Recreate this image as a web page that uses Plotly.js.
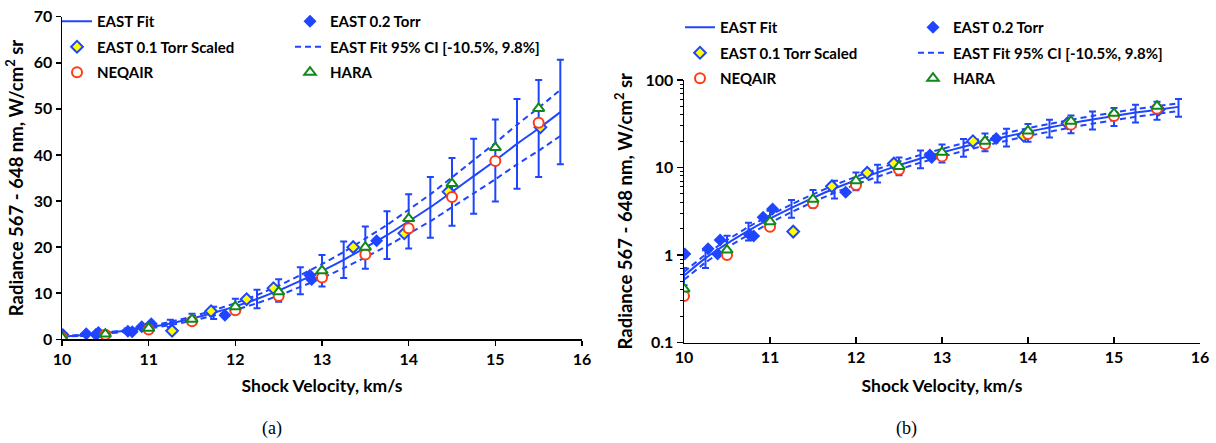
<!DOCTYPE html>
<html>
<head>
<meta charset="utf-8">
<script src="https://cdn.plot.ly/plotly-3.0.1.min.js"></script>
<style>
  html, body { margin: 0; padding: 0; background: #fff; }
  #chart { width: 1216px; height: 443px; }
</style>
</head>
<body>
<div id="chart"></div>
<script>
// ---- data ----
const fitV = [10, 10.25, 10.5, 10.75, 11, 11.25, 11.5, 11.75, 12, 12.25, 12.5, 12.75,
              13, 13.25, 13.5, 13.75, 14, 14.25, 14.5, 14.75, 15, 15.25, 15.5, 15.75];
const fitR = [0.58, 0.92, 1.35, 1.9, 2.6, 3.45, 4.5, 5.75, 7.15, 8.75, 10.6, 12.7,
              14.85, 17.25, 19.9, 22.6, 25.6, 28.65, 32.0, 35.4, 38.8, 42.4, 45.75, 49.3];
const fitErr = [0.13, 0.21, 0.31, 0.44, 0.6, 0.79, 1.04, 1.32, 1.64, 2.01, 2.44, 2.92,
                3.42, 3.97, 4.58, 5.2, 5.89, 6.59, 7.36, 8.14, 8.92, 9.75, 10.52, 11.34];
const ciUpper = [0.64, 1.01, 1.48, 2.09, 2.85, 3.79, 4.94, 6.31, 7.85, 9.61, 11.64, 13.94,
                 16.31, 18.94, 21.85, 24.81, 28.11, 31.46, 35.14, 38.87, 42.6, 46.56, 50.23, 54.13];
const ciLower = [0.52, 0.82, 1.21, 1.7, 2.33, 3.09, 4.03, 5.15, 6.4, 7.83, 9.49, 11.37,
                 13.29, 15.44, 17.81, 20.23, 22.91, 25.64, 28.64, 31.68, 34.73, 37.95, 40.95, 44.12];

const east02V = [10.01, 10.28, 10.39, 10.42, 10.76, 10.81, 10.92, 11.03, 11.88, 12.86, 12.88, 13.63];
const east02R = [1.03, 1.18, 1.03, 1.48, 1.72, 1.65, 2.7, 3.35, 5.2, 13.9, 13.0, 21.4];

const east01V = [11.27, 11.72, 12.13, 12.44, 13.36, 13.95, 14.46, 15.52];
const east01R = [1.85, 6.1, 8.7, 11.1, 20.0, 23.0, 32.0, 46.0];

const neqV = [10, 10.5, 11, 11.5, 12, 12.5, 13, 13.5, 14, 14.5, 15, 15.5];
const neqR = [0.34, 1.0, 2.1, 3.9, 6.3, 9.4, 13.4, 18.4, 24.1, 30.9, 38.7, 47.0];

const haraV = [10, 10.5, 11, 11.5, 12, 12.5, 13, 13.5, 14, 14.5, 15, 15.5];
const haraR = [0.41, 1.14, 2.4, 4.33, 7.07, 10.3, 14.9, 20.0, 26.2, 33.8, 41.6, 50.1];

const xTicks = [10, 11, 12, 13, 14, 15, 16];
const yLinTicks = [0, 10, 20, 30, 40, 50, 60, 70];
const yLogTicks = [0.1, 1, 10, 100];
const yLogText = ['0.1', '1', '10', '100'];

const names = {
  fit: 'EAST Fit',
  e02: 'EAST 0.2 Torr',
  e01: 'EAST 0.1 Torr Scaled',
  ci: 'EAST Fit 95% CI [-10.5%, 9.8%]',
  neq: 'NEQAIR',
  hara: 'HARA'
};
const captions = ['(a)', '(b)'];
const yTitle = 'Radiance 567 - 648 nm, W/cm<sup>2</sup> sr';
const xTitle = 'Shock Velocity, km/s';

// ---- style ----
const BLUE = '#1f45ff';
const RED = '#ff3b14';
const GREEN = '#11891a';
const YELLOW = '#ffff00';
const FONT = 'Lato, "Open Sans", sans-serif';

function panelTraces(xa, ya, legA, legB) {
  return [
    { x: fitV, y: fitR, xaxis: xa, yaxis: ya, type: 'scatter', mode: 'lines',
      name: names.fit, line: { color: BLUE, width: 2, shape: 'spline', smoothing: 0.6 },
      legend: legA, legendgroup: legA + 'fit', legendrank: 1 },
    { x: fitV, y: fitR, xaxis: xa, yaxis: ya, type: 'scatter', mode: 'markers',
      marker: { size: 1, color: 'rgba(0,0,0,0)' }, showlegend: false, hoverinfo: 'skip',
      error_y: { type: 'data', array: fitErr, visible: true, color: BLUE, thickness: 2, width: 3.5 } },
    { x: fitV, y: ciUpper, xaxis: xa, yaxis: ya, type: 'scatter', mode: 'lines',
      name: names.ci, line: { color: BLUE, width: 2, dash: '6px,4px', shape: 'spline', smoothing: 0.6 },
      legend: legB, legendgroup: legB + 'ci', legendrank: 2 },
    { x: fitV, y: ciLower, xaxis: xa, yaxis: ya, type: 'scatter', mode: 'lines',
      name: names.ci, line: { color: BLUE, width: 2, dash: '6px,4px', shape: 'spline', smoothing: 0.6 },
      legend: legB, legendgroup: legB + 'ci', showlegend: false },
    { x: east02V, y: east02R, xaxis: xa, yaxis: ya, type: 'scatter', mode: 'markers',
      name: names.e02, marker: { symbol: 'diamond', size: 10, color: BLUE, line: { width: 0 } },
      legend: legB, legendgroup: legB + 'e02', legendrank: 1 },
    { x: east01V, y: east01R, xaxis: xa, yaxis: ya, type: 'scatter', mode: 'markers',
      name: names.e01, marker: { symbol: 'diamond', size: 9, color: YELLOW, line: { color: BLUE, width: 2 } },
      legend: legA, legendgroup: legA + 'e01', legendrank: 2 },
    { x: neqV, y: neqR, xaxis: xa, yaxis: ya, type: 'scatter', mode: 'markers',
      name: names.neq, marker: { symbol: 'circle', size: 10, color: '#ffffff', line: { color: RED, width: 2 } },
      legend: legA, legendgroup: legA + 'neq', legendrank: 3 },
    { x: haraV, y: haraR, xaxis: xa, yaxis: ya, type: 'scatter', mode: 'markers',
      name: names.hara, marker: { symbol: 'triangle-up', size: 10, color: '#ffffff', line: { color: GREEN, width: 2 } },
      legend: legB, legendgroup: legB + 'hara', legendrank: 3 }
  ];
}

const data = [].concat(
  panelTraces('x', 'y', 'legend', 'legend2'),
  panelTraces('x2', 'y2', 'legend3', 'legend4')
);

const W = 1216, H = 443;
const tickFont = { family: FONT, size: 16, color: '#000', weight: 'bold' };
const xTitleFont = { family: FONT, size: 17.5, color: '#000', weight: 'bold' };
const yTitleFont = { family: FONT, size: 18.5, color: '#000', weight: 'bold' };
const legFont = { family: FONT, size: 15, color: '#000', weight: 'bold' };

function legend(xpx, ypx) {
  return { x: xpx / W, y: 1 - ypx / H, xanchor: 'left', yanchor: 'top',
    orientation: 'v', bgcolor: 'rgba(0,0,0,0)', borderwidth: 0,
    font: legFont, tracegroupgap: 3, traceorder: 'grouped', itemwidth: 30 };
}

const axBase = {
  showgrid: false, zeroline: false, showline: true, linecolor: '#000', linewidth: 1.5,
  tickcolor: '#000', tickwidth: 1.5, tickfont: tickFont, mirror: false, fixedrange: true
};

const layout = {
  width: W, height: H,
  margin: { l: 0, r: 0, t: 0, b: 0 },
  paper_bgcolor: '#fff', plot_bgcolor: '#fff',
  showlegend: true,
  xaxis: Object.assign({}, axBase, {
    domain: [62 / W, 582 / W], range: [10, 16], tickvals: xTicks, ticks: 'outside', ticklen: 5,
    anchor: 'y', title: { text: xTitle, font: xTitleFont, standoff: 12 }
  }),
  yaxis: Object.assign({}, axBase, {
    domain: [1 - 339.3 / H, 1 - 16.7 / H], range: [0, 70], tickvals: yLinTicks, ticks: 'outside', ticklen: 5,
    anchor: 'x', title: { text: yTitle, font: yTitleFont, standoff: 5 }
  }),
  xaxis2: Object.assign({}, axBase, {
    domain: [684 / W, 1200 / W], range: [10, 16], tickvals: xTicks, ticks: 'inside', ticklen: 6,
    anchor: 'y2', title: { text: xTitle, font: xTitleFont, standoff: 14 }
  }),
  yaxis2: Object.assign({}, axBase, {
    domain: [1 - 342.5 / H, 1 - 80 / H], type: 'log', range: [-1, 2],
    tickvals: yLogTicks, ticktext: yLogText, ticks: 'outside', ticklen: 6,
    minor: { ticks: 'outside', ticklen: 3, tickcolor: '#000', tickwidth: 1, dtick: 'D1', showgrid: false },
    anchor: 'x2', title: { text: yTitle, font: yTitleFont, standoff: 8 }
  }),
  legend: legend(57, 5),
  legend2: legend(290, 5),
  legend3: legend(680, 11),
  legend4: legend(913, 11),
  annotations: [
    { text: captions[0], x: 272 / W, y: 1 - 428 / H, xref: 'paper', yref: 'paper',
      xanchor: 'center', yanchor: 'middle', showarrow: false,
      font: { family: '"Liberation Serif", "DejaVu Serif", serif', size: 18, color: '#000' } },
    { text: captions[1], x: 906 / W, y: 1 - 428 / H, xref: 'paper', yref: 'paper',
      xanchor: 'center', yanchor: 'middle', showarrow: false,
      font: { family: '"Liberation Serif", "DejaVu Serif", serif', size: 18, color: '#000' } }
  ]
};

Plotly.newPlot('chart', data, layout, { staticPlot: true, displayModeBar: false });
</script>
</body>
</html>
